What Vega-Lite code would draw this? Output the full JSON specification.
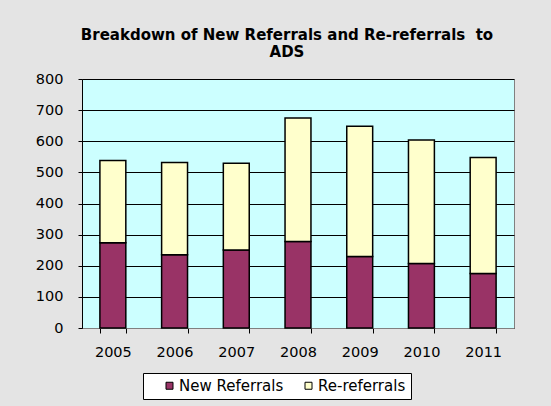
{
  "$schema": "https://vega.github.io/schema/vega-lite/v6.json",
  "width": 432,
  "height": 249,
  "autosize": "none",
  "padding": {"left": 82, "top": 79, "right": 37, "bottom": 78},
  "background": "#e4e4e4",
  "title": {
    "text": ["Breakdown of New Referrals and Re-referrals\u00a0 to", "ADS"],
    "font": "DejaVu Sans",
    "fontSize": 15,
    "fontWeight": "bold",
    "color": "#000000",
    "anchor": "middle",
    "dx": -11,
    "offset": 11,
    "lineHeight": 17
  },
  "data": {
    "values": [
      {"year": "2005", "type": "New Referrals", "value": 274},
      {"year": "2005", "type": "Re-referrals", "value": 264},
      {"year": "2006", "type": "New Referrals", "value": 235},
      {"year": "2006", "type": "Re-referrals", "value": 297},
      {"year": "2007", "type": "New Referrals", "value": 251},
      {"year": "2007", "type": "Re-referrals", "value": 278},
      {"year": "2008", "type": "New Referrals", "value": 278},
      {"year": "2008", "type": "Re-referrals", "value": 397},
      {"year": "2009", "type": "New Referrals", "value": 230},
      {"year": "2009", "type": "Re-referrals", "value": 418},
      {"year": "2010", "type": "New Referrals", "value": 207},
      {"year": "2010", "type": "Re-referrals", "value": 397},
      {"year": "2011", "type": "New Referrals", "value": 175},
      {"year": "2011", "type": "Re-referrals", "value": 373}
    ]
  },
  "mark": {"type": "bar", "stroke": "#000000", "strokeWidth": 1.5},
  "encoding": {
    "x": {
      "field": "year",
      "type": "ordinal",
      "scale": {"paddingInner": 0.58, "paddingOuter": 0.29},
      "axis": {
        "title": null,
        "labelAngle": 0,
        "tickBand": "extent",
        "tickSize": 5,
        "tickColor": "#000000",
        "domainColor": "#808080",
        "labelPadding": 12,
        "labelFont": "DejaVu Sans",
        "labelFontSize": 14.5,
        "labelColor": "#000000"
      }
    },
    "y": {
      "field": "value",
      "type": "quantitative",
      "stack": "zero",
      "scale": {"domain": [0, 800]},
      "axis": {
        "title": null,
        "values": [0, 100, 200, 300, 400, 500, 600, 700, 800],
        "tickSize": 4,
        "tickColor": "#000000",
        "domainColor": "#000000",
        "gridColor": "#000000",
        "gridOpacity": 1,
        "labelPadding": 15,
        "labelFont": "DejaVu Sans",
        "labelFontSize": 14.5,
        "labelColor": "#000000"
      }
    },
    "color": {
      "field": "type",
      "type": "nominal",
      "scale": {"domain": ["New Referrals", "Re-referrals"], "range": ["#993366", "#ffffcc"]},
      "legend": {
        "title": null,
        "orient": "none",
        "legendX": 61,
        "legendY": 294,
        "direction": "horizontal",
        "strokeColor": "#000000",
        "fillColor": "#ffffff",
        "padding": 5,
        "symbolType": "square",
        "symbolSize": 49,
        "symbolOffset": 14,
        "symbolStrokeColor": "#000000",
        "symbolStrokeWidth": 1,
        "labelFont": "DejaVu Sans",
        "labelFontSize": 15,
        "labelColor": "#000000",
        "labelOffset": 2,
        "labelExpr": "datum.label == 'Re-referrals' ? datum.label + '\u00a0\u00a0\u00a0\u00a0\u00a0' : datum.label",
        "columnPadding": 3,
        "cornerRadius": 0
      }
    },
    "order": {"field": "type", "sort": "ascending"}
  },
  "config": {
    "view": {"fill": "#ccffff", "stroke": "#808080", "strokeWidth": 1}
  }
}
